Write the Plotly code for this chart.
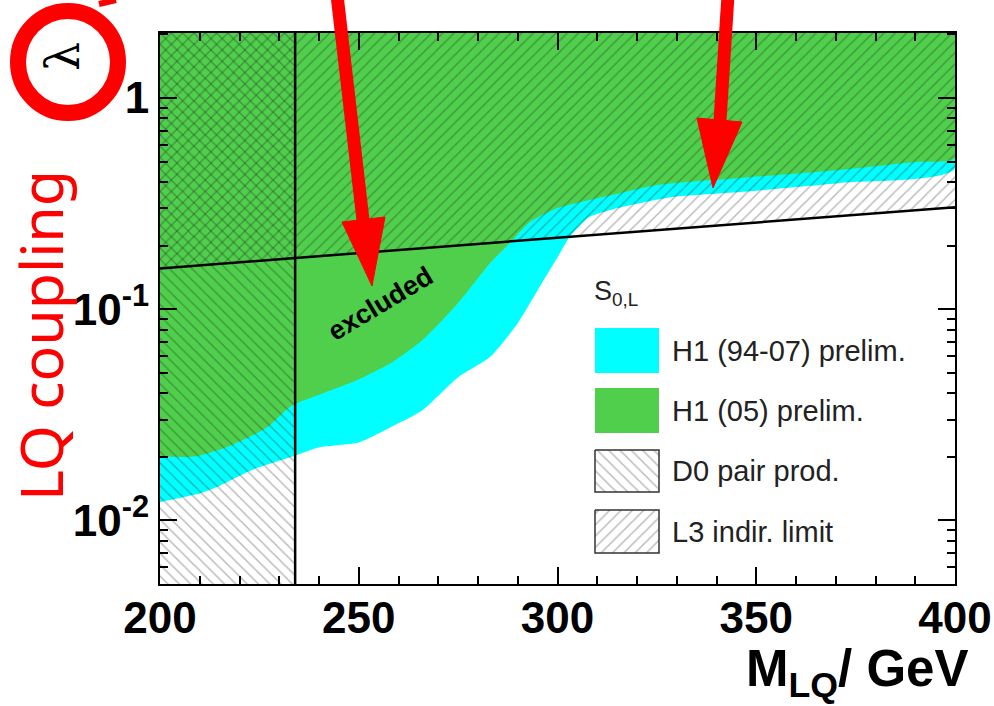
import math
import plotly.graph_objects as go

W, H = 994, 706

# ---------------- data ----------------
mass_range = [200, 400]
lambda_range = [0.005, 2.03]
x_tickvals = [200, 250, 300, 350, 400]
x_minor = [210, 220, 230, 240, 260, 270, 280, 290, 310, 320, 330, 340, 360, 370, 380, 390]
y_tickvals = [0.01, 0.1, 1]
y_ticktext = ["10<sup>-2</sup>", "10<sup>-1</sup>", "1"]
y_minor = [0.006, 0.007, 0.008, 0.009, 0.02, 0.03, 0.04, 0.05, 0.06, 0.07, 0.08, 0.09,
           0.2, 0.3, 0.4, 0.5, 0.6, 0.7, 0.8, 0.9, 2.0]

# H1 (94-07) prelim. exclusion boundary (cyan)
h1_9407_mass = [200, 206, 210, 214, 223, 233.5, 240, 250, 258, 266, 275, 283, 290,
                295, 300, 303, 308, 316, 329, 346, 371, 400]
h1_9407_lambda = [0.0122, 0.0129, 0.0134, 0.0143, 0.0173, 0.0201, 0.0222, 0.0234, 0.0276,
                  0.0332, 0.0476, 0.0593, 0.0859, 0.123, 0.176, 0.219, 0.273, 0.304,
                  0.340, 0.359, 0.396, 0.462]

# H1 (05) prelim. exclusion boundary (green)
h1_05_mass = [200, 209, 218, 227, 233, 241, 249.5, 258, 266, 275, 283, 288, 293, 300,
              308, 316, 325, 346, 371, 390, 400]
h1_05_lambda = [0.0201, 0.0201, 0.0227, 0.0276, 0.0348, 0.040, 0.0461, 0.0555, 0.0713,
                0.107, 0.165, 0.206, 0.258, 0.301, 0.329, 0.355, 0.387, 0.418, 0.456,
                0.497, 0.520]

# D0 pair production mass limit
d0_mass_limit = 234

# L3 indirect limit line
l3_mass = [200, 400]
l3_lambda = [0.156, 0.304]

legend_title = "S<sub>0,L</sub>"
legend_labels = ["H1 (94-07) prelim.", "H1 (05) prelim.", "D0 pair prod.", "L3 indir. limit"]

# ---------------- styles ----------------
CYAN = "#00FFFF"
GREEN = "#50CF4C"
HATCH = "rgba(20,20,20,0.6)"
CLEAR = "rgba(0,0,0,0)"
FONT = "Liberation Sans, Arial, Helvetica, sans-serif"

lam_top = lambda_range[1]
lam_bot = lambda_range[0]

fig = go.Figure()

# cyan region
fig.add_trace(go.Scatter(
    x=h1_9407_mass + [mass_range[1], mass_range[0]],
    y=h1_9407_lambda + [lam_top, lam_top],
    fill="toself", fillcolor=CYAN, mode="lines", line=dict(width=0, shape="spline", smoothing=0.6),
    hoverinfo="skip", showlegend=False))
# green region
fig.add_trace(go.Scatter(
    x=h1_05_mass + [mass_range[1], mass_range[0]],
    y=h1_05_lambda + [lam_top, lam_top],
    fill="toself", fillcolor=GREEN, mode="lines", line=dict(width=0, shape="spline", smoothing=0.6),
    hoverinfo="skip", showlegend=False))
# D0 hatch
fig.add_trace(go.Scatter(
    x=[mass_range[0], d0_mass_limit, d0_mass_limit, mass_range[0]],
    y=[lam_bot, lam_bot, lam_top, lam_top],
    fill="toself", fillcolor=CLEAR, mode="lines", line=dict(width=0),
    fillpattern=dict(shape="\\", size=8, solidity=0.18, fgcolor=HATCH, bgcolor=CLEAR),
    hoverinfo="skip", showlegend=False))
# L3 hatch
fig.add_trace(go.Scatter(
    x=l3_mass + [mass_range[1], mass_range[0]],
    y=l3_lambda + [lam_top, lam_top],
    fill="toself", fillcolor=CLEAR, mode="lines", line=dict(width=0),
    fillpattern=dict(shape="/", size=8, solidity=0.18, fgcolor=HATCH, bgcolor=CLEAR),
    hoverinfo="skip", showlegend=False))
# L3 line
fig.add_trace(go.Scatter(x=l3_mass, y=l3_lambda, mode="lines",
                         line=dict(color="black", width=2.5),
                         hoverinfo="skip", showlegend=False))
# D0 line
fig.add_trace(go.Scatter(x=[d0_mass_limit, d0_mass_limit], y=[lam_bot, lam_top], mode="lines",
                         line=dict(color="black", width=2.5),
                         hoverinfo="skip", showlegend=False))

# ---------------- legend (pixel overlay axes) ----------------
sw_x0, sw_x1 = 595, 659
sw_rows = [(328, 373), (388, 433), (450, 492), (510, 553)]
sw_styles = [
    dict(fillcolor=CYAN, line=dict(width=0)),
    dict(fillcolor=GREEN, line=dict(width=0)),
    dict(fillcolor=CLEAR, line=dict(width=1.5, color="#333"),
         fillpattern=dict(shape="\\", size=8, solidity=0.18, fgcolor=HATCH, bgcolor=CLEAR)),
    dict(fillcolor=CLEAR, line=dict(width=1.5, color="#333"),
         fillpattern=dict(shape="/", size=8, solidity=0.18, fgcolor=HATCH, bgcolor=CLEAR)),
]
for (y0, y1), st in zip(sw_rows, sw_styles):
    fig.add_trace(go.Scatter(
        x=[sw_x0, sw_x1, sw_x1, sw_x0, sw_x0], y=[y0, y0, y1, y1, y0],
        fill="toself", mode="lines", xaxis="x2", yaxis="y2",
        hoverinfo="skip", showlegend=False, **st))

annotations = []
annotations.append(dict(x=592, y=293, xref="x2", yref="y2", text=legend_title,
                        showarrow=False, xanchor="left", yanchor="middle",
                        font=dict(family=FONT, size=27, color="#222")))
for (y0, y1), lab in zip(sw_rows, legend_labels):
    annotations.append(dict(x=670, y=(y0 + y1) / 2, xref="x2", yref="y2", text=lab,
                            showarrow=False, xanchor="left", yanchor="middle",
                            font=dict(family=FONT, size=29, color="#222")))

# "excluded" label
annotations.append(dict(x=380, y=304, xref="x2", yref="y2", text="<b>excluded</b>",
                        showarrow=False, textangle=-31,
                        font=dict(family=FONT, size=27, color="black")))
# x title
annotations.append(dict(x=970, y=638, xref="x2", yref="y2",
                        text="<b>M<sub>LQ</sub>/ GeV</b>",
                        showarrow=False, xanchor="right", yanchor="top",
                        font=dict(family=FONT, size=51, color="black")))
# y title (red, handwritten style)
annotations.append(dict(x=40, y=336, xref="x2", yref="y2", text="LQ coupling",
                        showarrow=False, textangle=-90,
                        font=dict(family="Noto Sans, sans-serif", size=59, color="#FF0000")))
# lambda in circle
annotations.append(dict(x=63, y=57, xref="x2", yref="y2", text="λ",
                        showarrow=False, textangle=-90,
                        font=dict(family="DejaVu Serif, serif", size=46, color="black")))

shapes = []
# red circle
shapes.append(dict(type="circle", xref="x2", yref="y2", x0=68 - 50, x1=68 + 50,
                   y0=62 - 51, y1=62 + 51, line=dict(color="#FF0000", width=16),
                   layer="above"))
# small red mark at top
shapes.append(dict(type="line", xref="x2", yref="y2", x0=99, y0=4, x1=116, y1=0,
                   line=dict(color="#FF0000", width=6), layer="above"))
# arrows
for (sx, sy, ex, ey, hl, hr, tip) in [
        (337, -5, 363, 220, (342, 222), (385, 217), (372, 286)),
        (728, -5, 720, 121, (697, 118), (742, 122), (713, 188))]:
    shapes.append(dict(type="line", xref="x2", yref="y2", x0=sx, y0=sy, x1=ex, y1=ey,
                       line=dict(color="#FF0000", width=13), layer="above"))
    shapes.append(dict(type="path", xref="x2", yref="y2",
                       path=f"M {hl[0]},{hl[1]} L {hr[0]},{hr[1]} L {tip[0]},{tip[1]} Z",
                       fillcolor="#FF0000", line=dict(color="#FF0000", width=1),
                       layer="above"))

fig.update_layout(
    width=W, height=H,
    margin=dict(l=0, r=0, t=0, b=0, autoexpand=False),
    paper_bgcolor="white", plot_bgcolor=CLEAR,
    showlegend=False,
    annotations=annotations,
    shapes=shapes,
    xaxis=dict(
        domain=[160 / W, 955 / W], range=mass_range,
        tickmode="array", tickvals=x_tickvals,
        ticks="inside", ticklen=17, tickwidth=2, tickcolor="black",
        minor=dict(tickmode="array", tickvals=x_minor, ticks="inside", ticklen=8,
                   tickwidth=2, tickcolor="black", showgrid=False),
        showline=True, linecolor="black", linewidth=2, mirror="allticks",
        showgrid=False, zeroline=False, ticklabelstandoff=-6,
        tickfont=dict(family=FONT, size=44, color="black", weight="bold"),
        anchor="y",
    ),
    yaxis=dict(
        domain=[1 - 584 / H, 1 - 33 / H], type="log",
        range=[math.log10(lambda_range[0]), math.log10(lambda_range[1])],
        tickmode="array", tickvals=y_tickvals, ticktext=y_ticktext,
        ticks="inside", ticklen=17, tickwidth=2, tickcolor="black",
        minor=dict(tickmode="array", tickvals=y_minor, ticks="inside", ticklen=8,
                   tickwidth=2, tickcolor="black", showgrid=False),
        showline=True, linecolor="black", linewidth=2, mirror="allticks",
        showgrid=False, zeroline=False,
        tickfont=dict(family=FONT, size=44, color="black", weight="bold"),
        anchor="x",
    ),
    xaxis2=dict(domain=[0, 1], range=[0, W], visible=False, anchor="y2", fixedrange=True),
    yaxis2=dict(domain=[0, 1], range=[H, 0], visible=False, anchor="x2", fixedrange=True),
)

fig.write_html(
    "out.html",
    config={"displayModeBar": False},
    post_script="document.body.style.margin='0';document.body.style.overflow='hidden';",
)
